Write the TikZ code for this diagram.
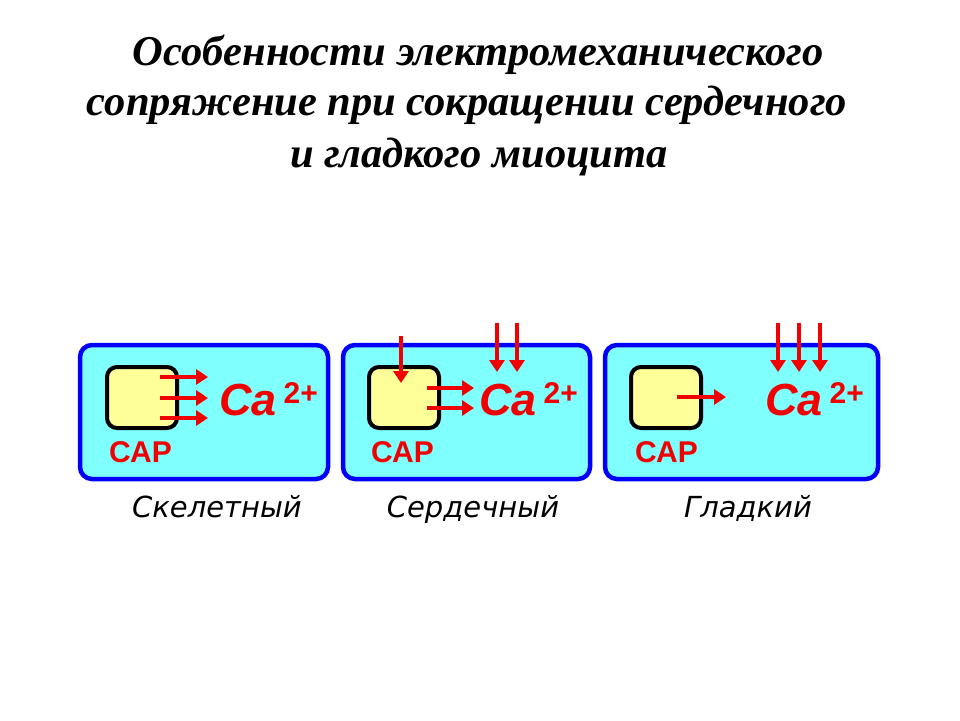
\documentclass[tikz,border=0pt]{standalone}
\usepackage{fontspec}
\usepackage{xcolor}
\usepackage{tikz}
\usetikzlibrary{calc, positioning, arrows.meta}
\setmainfont{Liberation Serif}
\newfontfamily\arialfont{Liberation Sans}
\newfontfamily\handfont{DejaVu Sans}
\definecolor{cellCyan}{RGB}{128,255,255}
\definecolor{cellBlue}{RGB}{0,0,250}
\definecolor{srYellow}{RGB}{255,255,153}
\definecolor{ionRed}{RGB}{240,0,0}
\newcommand{\caion}{{\bfseries\itshape\fontsize{45}{45}\selectfont Ca}\hspace{7pt}\raisebox{12pt}{\bfseries\fontsize{30}{30}\selectfont 2+}}
\tikzset{
    cell/.style={rectangle, draw=cellBlue, line width=4.5pt, fill=cellCyan, rounded corners=12pt, minimum height=134pt, inner sep=0pt},
    sr/.style={rectangle, draw=black, line width=4pt, fill=srYellow, rounded corners=10pt, minimum width=70pt, minimum height=61pt, inner sep=0pt},
    ion/.style={-{Triangle[length=12pt, width=15pt]}, draw=ionRed, line width=4pt},
    ca/.style={anchor=base west, inner sep=0pt, text=ionRed, font=\arialfont},
    srlabel/.style={anchor=base west, inner sep=0pt, text=ionRed, font=\arialfont\bfseries\fontsize{30}{30}\selectfont},
    title/.style={anchor=base, inner sep=0pt, font=\bfseries\itshape\fontsize{42.5}{50}\selectfont},
    muscle/.style={anchor=base, inner sep=0pt, font=\handfont\itshape\fontsize{29}{29}\selectfont}
}

\begin{document}
\begin{tikzpicture}[x=1pt, y=-1pt]
    \useasboundingbox[fill=white] (0,0) rectangle (960,720);

    % Title
    \node[title] (t1) at (478,65) {Особенности электромеханического};
    \node[title] (t2) at (467,115) {сопряжение при сокращении сердечного};
    \node[title] (t3) at (479,167) {и гладкого миоцита};

    % Cells
    \node[cell, minimum width=248pt] (cell1) at (204,412) {};
    \node[cell, minimum width=247pt] (cell2) at (466.5,412) {};
    \node[cell, minimum width=273pt] (cell3) at (741.5,412) {};

    % Reticulum
    \node[sr] (sr1) at (142,397.5) {};
    \node[sr] (sr2) at (404,397.5) {};
    \node[sr] (sr3) at (666,397.5) {};
    \node[srlabel] (l1) at (109,462) {САР};
    \node[srlabel] (l2) at (371,462) {САР};
    \node[srlabel] (l3) at (635,462) {САР};

    % Ions
    \node[ca] (ca1) at (219,415) {\caion};
    \node[ca] (ca2) at (479,415) {\caion};
    \node[ca] (ca3) at (765,415) {\caion};

    % Release from reticulum
    \foreach \y [count=\i] in {377,398,418} {
        \coordinate (s1\i) at (160,\y);
        \coordinate (e1\i) at (208,\y);
        \draw[ion] (s1\i) -- (e1\i);
    }
    \foreach \y [count=\i] in {388,408} {
        \coordinate (s2\i) at (427,\y);
        \coordinate (e2\i) at (474,\y);
        \draw[ion] (s2\i) -- (e2\i);
    }
    \coordinate (s31) at (677,397);
    \coordinate (e31) at (726,397);
    \draw[ion] (s31) -- (e31);

    % Entry through membrane
    \coordinate (in0) at (401,336);
    \coordinate (out0) at (401,383);
    \draw[ion] (in0) -- (out0);
    \foreach \x [count=\i] in {497,517} {
        \coordinate (in2\i) at (\x,323);
        \coordinate (out2\i) at (\x,372);
        \draw[ion] (in2\i) -- (out2\i);
    }
    \foreach \x [count=\i] in {778,799,820} {
        \coordinate (in3\i) at (\x,323);
        \coordinate (out3\i) at (\x,372);
        \draw[ion] (in3\i) -- (out3\i);
    }

    % Muscle types
    \node[muscle] (m1) at (217,517) {Скелетный};
    \node[muscle] (m2) at (473,517) {Сердечный};
    \node[muscle] (m3) at (748,517) {Гладкий};
\end{tikzpicture}
\end{document}
